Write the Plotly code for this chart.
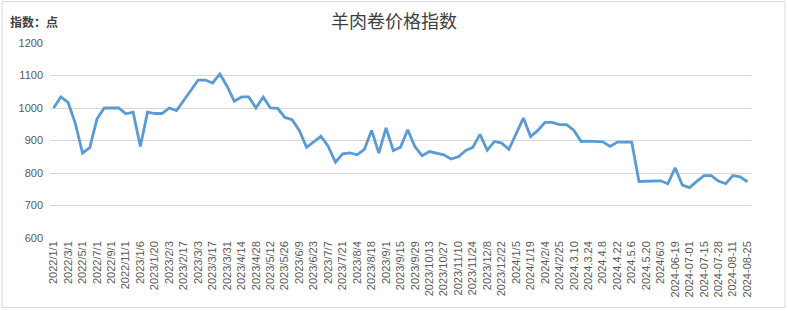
import plotly.graph_objects as go

dates = [
    "2022/1/1", "2022/2/1", "2022/3/1", "2022/4/1", "2022/5/1", "2022/6/1", "2022/7/1", "2022/8/1",
    "2022/9/1", "2022/10/1", "2022/11/1", "2022/12/1",
    "2023/1/6", "2023/1/13", "2023/1/20", "2023/1/27", "2023/2/3", "2023/2/10", "2023/2/17", "2023/2/24",
    "2023/3/3", "2023/3/10", "2023/3/17", "2023/3/24", "2023/3/31", "2023/4/7", "2023/4/14", "2023/4/21",
    "2023/4/28", "2023/5/5", "2023/5/12", "2023/5/19", "2023/5/26", "2023/6/2", "2023/6/9", "2023/6/16",
    "2023/6/23", "2023/6/30", "2023/7/7", "2023/7/14", "2023/7/21", "2023/7/28", "2023/8/4", "2023/8/11",
    "2023/8/18", "2023/8/25", "2023/9/1", "2023/9/8", "2023/9/15", "2023/9/22", "2023/9/29", "2023/10/6",
    "2023/10/13", "2023/10/20", "2023/10/27", "2023/11/3", "2023/11/10", "2023/11/17", "2023/11/24",
    "2023/12/1", "2023/12/8", "2023/12/15", "2023/12/22", "2023/12/29",
    "2024/1/5", "2024/1/12", "2024/1/19", "2024/1/26", "2024/2/4", "2024/2/18", "2024/2/25",
    "2024.3.3", "2024.3.10", "2024.3.17", "2024.3.24", "2024.3.31", "2024.4.8", "2024.4.15",
    "2024.4.22", "2024.4.29", "2024.5.6", "2024.5.13", "2024.5.20", "2024.5.27",
    "2024/6/3", "2024/6/11", "2024-06-19", "2024-06-24", "2024-07-01", "2024-07-08", "2024-07-15",
    "2024-07-21", "2024-07-28", "2024-08-04", "2024-08-11", "2024-08-18", "2024-08-25",
]

index_values = [
    1000, 1034, 1017, 953, 861, 878, 966, 1000, 1000, 1000, 982, 987,
    882, 987, 983, 983, 1000, 992, 1023, 1055, 1086, 1086, 1077, 1105,
    1067, 1021, 1034, 1034, 1000, 1034, 1000, 999, 971, 964, 931, 879,
    897, 913, 882, 833, 859, 862, 856, 873, 931, 861, 939, 869,
    879, 933, 881, 853, 866, 862, 856, 843, 850, 869, 879, 919,
    870, 897, 892, 873, 919, 969, 912, 931, 956, 956, 949, 949,
    931, 897, 898, 897, 896, 882, 895, 895, 895, 774, 774, 776,
    776, 767, 816, 763, 755, 774, 792, 792, 775, 767, 792, 788, 773,
]

tick_labels = dates[::2]

W, H = 788, 311
ml, mr, mt, mb = 49.5, 36.5, 43, 73
pw, ph = W - ml - mr, H - mt - mb

def px_x(x):
    return (x - ml) / pw

def px_y(y):
    return (H - mb - y) / ph

fig = go.Figure()
fig.add_trace(go.Scatter(
    x=dates, y=index_values, mode="lines",
    line=dict(color="#5b9bd5", width=2.8),
    hoverinfo="x+y", showlegend=False,
))

fig.update_layout(
    width=W, height=H,
    margin=dict(l=ml, r=mr, t=mt, b=mb, pad=0),
    paper_bgcolor="white", plot_bgcolor="white",
    font=dict(family="Liberation Sans, Arial, sans-serif", size=11, color="#595959"),
    xaxis=dict(
        type="category", tickmode="array", tickvals=tick_labels, ticktext=tick_labels,
        range=[-0.5, len(dates) - 0.5],
        tickangle=-90, showgrid=False, showline=False, ticks="", zeroline=False,
        tickfont=dict(size=11, color="#595959"),
    ),
    yaxis=dict(
        range=[600, 1200], tickmode="linear", tick0=600, dtick=100,
        showgrid=True, gridcolor="#d9d9d9", gridwidth=1, zeroline=False, showline=False,
        ticks="", tickfont=dict(size=11, color="#595959"), ticklabelstandoff=6,
    ),
    shapes=[dict(
        type="rect", xref="paper", yref="paper",
        x0=px_x(1.5), x1=px_x(785.5), y0=px_y(307.5), y1=px_y(1.5),
        line=dict(color="#d9d9d9", width=1), fillcolor="rgba(0,0,0,0)", layer="below",
    )],
    annotations=[
        dict(text="羊肉卷价格指数", xref="paper", yref="paper", x=px_x(394), y=px_y(20),
             xanchor="center", yanchor="middle", showarrow=False,
             font=dict(family="Noto Sans CJK SC", size=18, color="#404040")),
        dict(text="<b>指数：点</b>", xref="paper", yref="paper", x=px_x(7), y=px_y(22),
             xanchor="left", yanchor="middle", showarrow=False,
             font=dict(family="Noto Sans CJK SC", size=12, color="#404040")),
    ],
)

fig.write_html("out.html")
